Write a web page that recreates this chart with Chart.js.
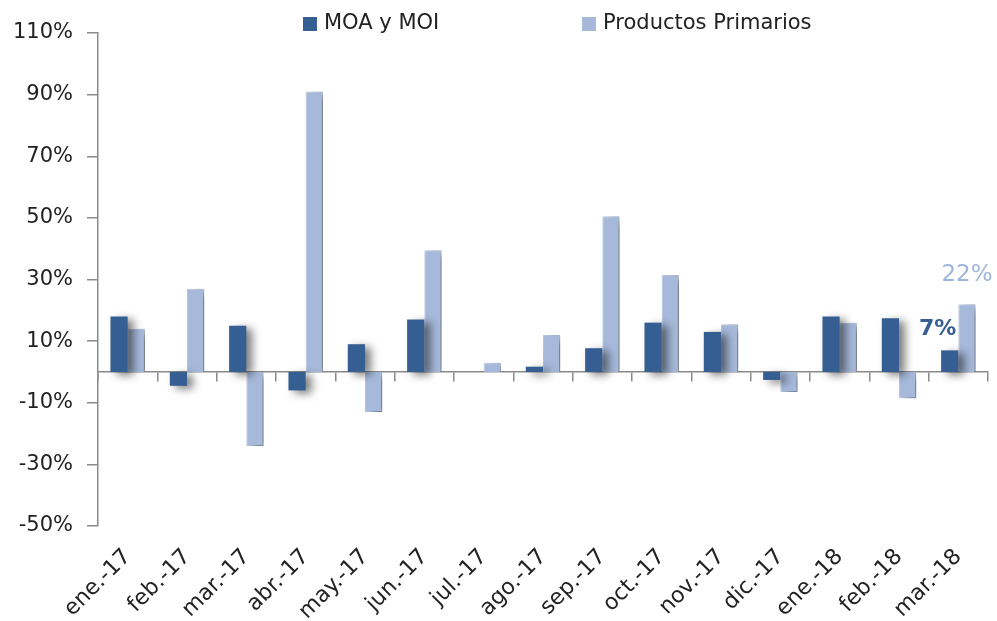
<!DOCTYPE html>
<html>
<head>
<meta charset="utf-8">
<script src="https://cdn.jsdelivr.net/npm/chart.js@4/dist/chart.umd.min.js"></script>
<style>
  body { margin: 0; background: #fff; }
  .wrap { width: 997px; height: 621px; position: relative; }
</style>
</head>
<body>
<div class="wrap"><canvas id="chart"></canvas></div>
<script>
const months = ['ene.-17', 'feb.-17', 'mar.-17', 'abr.-17', 'may.-17', 'jun.-17', 'jul.-17',
  'ago.-17', 'sep.-17', 'oct.-17', 'nov.-17', 'dic.-17', 'ene.-18', 'feb.-18', 'mar.-18'];
const moaMoi = [18, -4.5, 15, -6, 9, 17, 0, 1.7, 7.7, 16, 13, -2.6, 18, 17.4, 7];
const primarios = [14, 27, -24, 91, -13, 39.5, 3, 12, 50.5, 31.5, 15.5, -6.5, 16, -8.5, 22];
const yTicks = [-50, -30, -10, 10, 30, 50, 70, 90, 110];
const annotated = ['mar.-18'];

const DARK = '#355e92';
const LIGHT = '#a6b9da';
const FONT = 'DejaVu Sans';

// soft drop shadow under the bars
const barShadow = {
  id: 'barShadow',
  beforeDatasetsDraw(chart) {
    const ctx = chart.ctx;
    ctx.save();
    ctx.shadowColor = 'rgba(0,0,0,0.5)';
    ctx.shadowBlur = 8;
    ctx.shadowOffsetX = 6;
    ctx.shadowOffsetY = 3;
  },
  afterDatasetsDraw(chart) {
    chart.ctx.restore();
  }
};

// value labels on the last month
const valueLabels = {
  id: 'valueLabels',
  afterDatasetsDraw(chart) {
    const ctx = chart.ctx;
    const styles = [
      { color: DARK, font: 'bold 22px ' + FONT, dx: -12, dy: -10 },
      { color: '#9fb6dc', font: '23px ' + FONT, dx: 0, dy: -18 }
    ];
    ctx.save();
    ctx.textAlign = 'center';
    ctx.textBaseline = 'bottom';
    annotated.forEach(lbl => {
      const i = chart.data.labels.indexOf(lbl);
      chart.data.datasets.forEach((ds, d) => {
        const bar = chart.getDatasetMeta(d).data[i];
        ctx.fillStyle = styles[d].color;
        ctx.font = styles[d].font;
        ctx.fillText(Math.round(ds.data[i]) + '%', bar.x + styles[d].dx, bar.y + styles[d].dy);
      });
    });
    ctx.restore();
  }
};

// legend with the wide gap between the two entries
const wideLegend = {
  id: 'wideLegend',
  afterDraw(chart) {
    const ctx = chart.ctx;
    const xs = [303, 582];
    ctx.save();
    ctx.font = '21px ' + FONT;
    ctx.textBaseline = 'middle';
    chart.data.datasets.forEach((ds, d) => {
      ctx.fillStyle = ds.backgroundColor;
      ctx.fillRect(xs[d], 17, 14, 14);
      ctx.fillStyle = '#222';
      ctx.fillText(ds.label, xs[d] + 21, 24);
    });
    ctx.restore();
  }
};

new Chart(document.getElementById('chart'), {
  type: 'bar',
  data: {
    labels: months,
    datasets: [
      { label: 'MOA y MOI', data: moaMoi, backgroundColor: DARK },
      { label: 'Productos Primarios', data: primarios, backgroundColor: LIGHT,
        borderColor: '#b9c9e4', borderWidth: 1 }
    ]
  },
  options: {
    responsive: true,
    maintainAspectRatio: false,
    animation: false,
    categoryPercentage: 0.58,
    barPercentage: 1,
    layout: { padding: { top: 33, left: 13, right: 9, bottom: 0 } },
    plugins: {
      legend: { display: false },
      tooltip: { enabled: false }
    },
    scales: {
      x: {
        grid: { display: false },
        border: { display: false },
        afterFit(axis) {
          axis.height = 95;
          axis.paddingLeft = 0;
          axis.paddingRight = 0;
        },
        ticks: {
          color: '#222',
          font: { family: FONT, size: 22 },
          minRotation: 45,
          maxRotation: 45,
          padding: 10,
          autoSkip: false
        }
      },
      x2: {
        type: 'category',
        position: { y: 0 },
        offset: true,
        grid: { offset: true, drawOnChartArea: false, tickLength: 9, color: '#8a8a8a', lineWidth: 1.5 },
        border: { color: '#8a8a8a', width: 1.5 },
        ticks: { display: false }
      },
      y: {
        min: yTicks[0],
        max: yTicks[yTicks.length - 1],
        afterBuildTicks(axis) {
          axis.ticks = yTicks.map(v => ({ value: v }));
        },
        afterFit(axis) {
          axis.width = 85;
        },
        grid: { drawOnChartArea: false, tickLength: 11, color: '#8a8a8a', lineWidth: 1.5 },
        border: { color: '#8a8a8a', width: 1.5 },
        ticks: {
          color: '#222',
          font: { family: FONT, size: 21 },
          padding: 14,
          callback: v => v + '%'
        }
      }
    }
  },
  plugins: [barShadow, valueLabels, wideLegend]
});
</script>
</body>
</html>
